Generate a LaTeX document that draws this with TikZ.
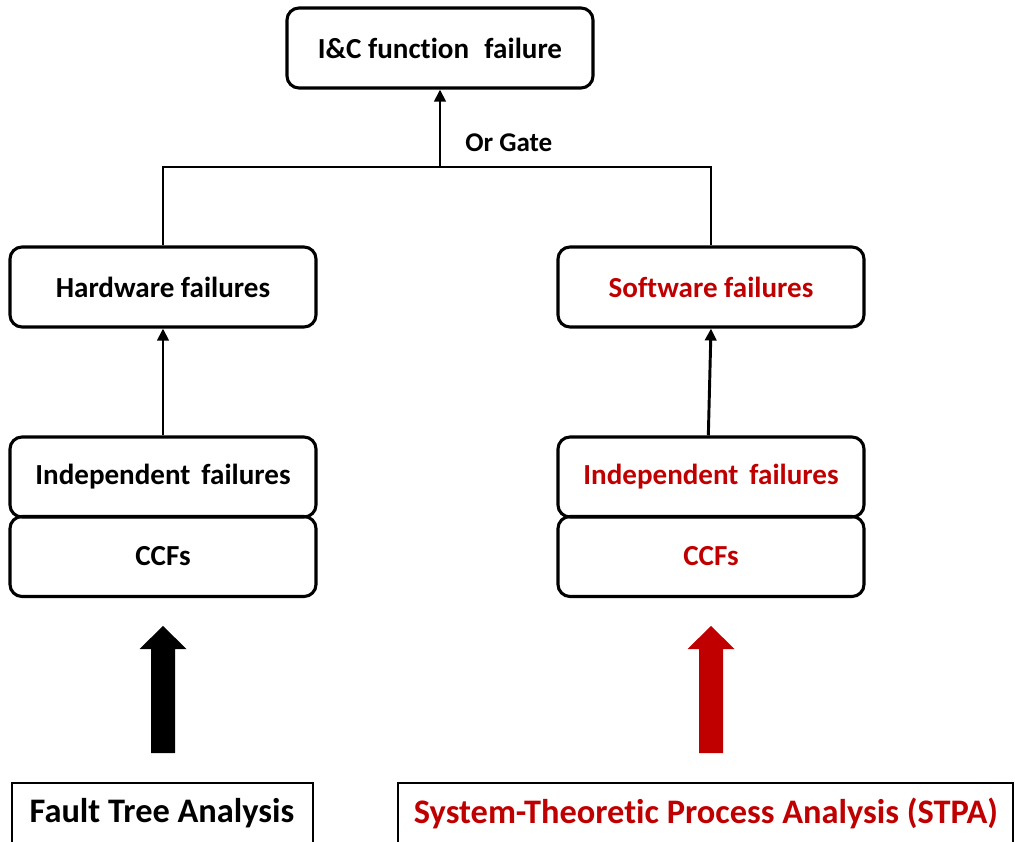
\documentclass[tikz,border=0pt]{standalone}
\usepackage{fontspec}
\setmainfont[Ligatures=NoCommon]{Carlito}
\usetikzlibrary{arrows.meta}
\definecolor{stpared}{HTML}{C00000}
\tikzset{
  failbox/.style={draw, line width=2.3pt, rounded corners=9pt, minimum width=229.5pt,
    minimum height=60pt, inner sep=0pt, font=\fontsize{21.8}{26}\selectfont\bfseries},
  methodbox/.style={minimum width=225pt, minimum height=45pt, inner sep=0pt},
  methodtext/.style={font=\fontsize{25.8}{30}\selectfont\bfseries},
  link/.style={line width=2.2pt},
  uplink/.style={link, -{Triangle[length=9pt,width=8.5pt]}}
}
\begin{document}
\begin{tikzpicture}[x=0.75pt,y=-0.75pt]
\useasboundingbox (0,0) rectangle (1015,842);

% top event
\node[failbox] (top) at (440,48) {I\&C function\hspace{0.3em} failure};

% second level
\node[failbox] (hw) at (163,287) {Hardware failures};
\node[failbox, text=stpared] (sw) at (711,287) {Software failures};

% basic events, stacked pairs
\node[failbox] (indL) at (163,477) {Independent\hspace{0.15em} failures};
\node[failbox] (ccfL) at (163,556.5) {CCFs};
\node[failbox, text=stpared] (indR) at (711,477) {Independent\hspace{0.15em} failures};
\node[failbox, text=stpared] (ccfR) at (711,556.5) {CCFs};

% or gate
\coordinate (gate) at (440,167);
\draw[link] (hw.north) |- (gate) -| (sw.north);
\draw[uplink] (gate) -- (top.south);
\node[font=\fontsize{20.3}{24}\selectfont\bfseries, anchor=west, inner sep=0pt] (orlbl) at (465,143) {Or Gate};

% links to second level
\draw[uplink] (indL.north) -- (hw.south);
\draw[uplink] ([xshift=-2]indR.north) -- (sw.south);

% analysis methods
\node[methodbox] (fta) at (162.5,813) {};
\node[methodtext] (ftatxt) at (162,813) {Fault Tree Analysis};
\draw[line width=1.6pt] (fta.south west) -- (fta.north west) -- (fta.north east) -- (fta.south east);

\node[methodbox, minimum width=461pt] (stpa) at (705.5,813) {};
\node[methodtext, text=stpared] (stpatxt) at (706,813) {System-Theoretic Process Analysis (STPA)};
\draw[line width=1.6pt] (stpa.south west) -- (stpa.north west) -- (stpa.north east) -- (stpa.south east);

% block arrows from methods to the basic events
\fill[black] (151,753) -- (151,649) -- (139.5,649) -- (163,626) -- (186.5,649) -- (175,649) -- (175,753) -- cycle;
\fill[stpared] (699,753) -- (699,649) -- (687.5,649) -- (711,626) -- (734.5,649) -- (723,649) -- (723,753) -- cycle;
\end{tikzpicture}
\end{document}
